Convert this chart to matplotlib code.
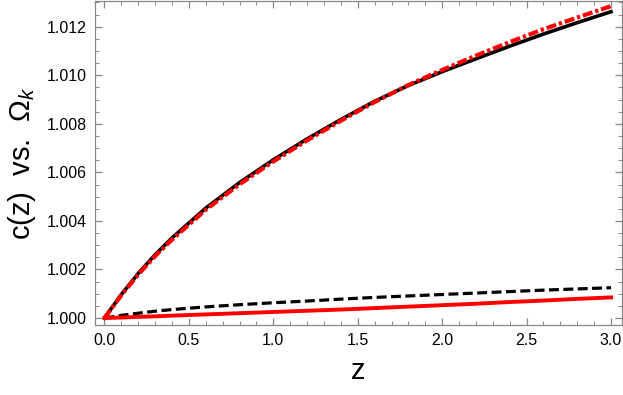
import matplotlib
matplotlib.use("Agg")
import matplotlib.pyplot as plt
from matplotlib.ticker import MultipleLocator, FormatStrFormatter

plt.rcParams['font.family'] = ['Liberation Sans', 'DejaVu Sans']
plt.rcParams['mathtext.fontset'] = 'custom'
plt.rcParams['mathtext.rm'] = 'Liberation Sans'
plt.rcParams['mathtext.it'] = 'Liberation Sans:italic'

z = [0.0, 0.1, 0.2, 0.3, 0.4, 0.6, 0.8, 1.0, 1.2, 1.4, 1.6, 1.8, 2.0, 2.2, 2.4, 2.6, 2.8, 3.0]
c_black_solid = [1.0, 1.00097, 1.00184, 1.00261, 1.00330, 1.00453, 1.00558, 1.00652,
                 1.00738, 1.00818, 1.00893, 1.00958, 1.01015, 1.01068, 1.01120,
                 1.01170, 1.01217, 1.01262]
c_red_dashdot = [1.0, 1.00094, 1.00179, 1.00255, 1.00323, 1.00446, 1.00551, 1.00645,
                 1.00732, 1.00813, 1.00890, 1.00960, 1.01022, 1.01081, 1.01137,
                 1.01190, 1.01238, 1.01285]
c_black_dashed = [1.0, 1.00011, 1.00020, 1.00028, 1.00035, 1.00046, 1.00055, 1.00063,
                  1.00070, 1.00078, 1.00085, 1.00091, 1.00097, 1.00103, 1.00109,
                  1.00115, 1.00120, 1.00125]
c_red_solid = [1.0, 1.00002, 1.00005, 1.00007, 1.00010, 1.00015, 1.00020, 1.00025,
               1.00030, 1.00035, 1.00041, 1.00047, 1.00053, 1.00059, 1.00066,
               1.00072, 1.00079, 1.00085]

fig = plt.figure(figsize=(6.23, 3.95), dpi=100)
ax = fig.add_axes([0.1525, 0.177, 0.8459, 0.821])

ax.plot(z, c_black_solid, color='black', lw=2.6)
ax.plot(z, c_red_dashdot, color='red', lw=3.0, linestyle=(0, (2.4, 0.7, 0.8, 0.7)))
ax.plot(z, c_black_dashed, color='black', lw=2.3, linestyle=(0, (3.1, 1.4)))
ax.plot(z, c_red_solid, color='red', lw=2.8)

ax.set_xlim(-0.056, 3.065)
ax.set_ylim(0.99971, 1.01307)

ax.xaxis.set_major_locator(MultipleLocator(0.5))
ax.xaxis.set_minor_locator(MultipleLocator(0.1))
ax.yaxis.set_major_locator(MultipleLocator(0.002))
ax.yaxis.set_minor_locator(MultipleLocator(0.0005))
ax.xaxis.set_major_formatter(FormatStrFormatter('%.1f'))
ax.yaxis.set_major_formatter(FormatStrFormatter('%.3f'))

for s in ax.spines.values():
    s.set_color('#888888')
    s.set_linewidth(0.9)
ax.tick_params(which='both', direction='in', top=True, right=True, color='#888888')
ax.tick_params(which='major', length=5, width=0.9, labelsize=11.5, pad=6)
ax.tick_params(which='minor', length=2.8, width=0.7)
ax.tick_params(axis='x', which='both', labeltop=False)
ax.tick_params(axis='y', which='both', labelright=False)

ax.set_xlabel('z', fontsize=21, labelpad=6)
ax.set_ylabel(r'c(z)  vs.  $\Omega_k$', fontsize=21, labelpad=6)

fig.savefig('out.png', dpi=100)
